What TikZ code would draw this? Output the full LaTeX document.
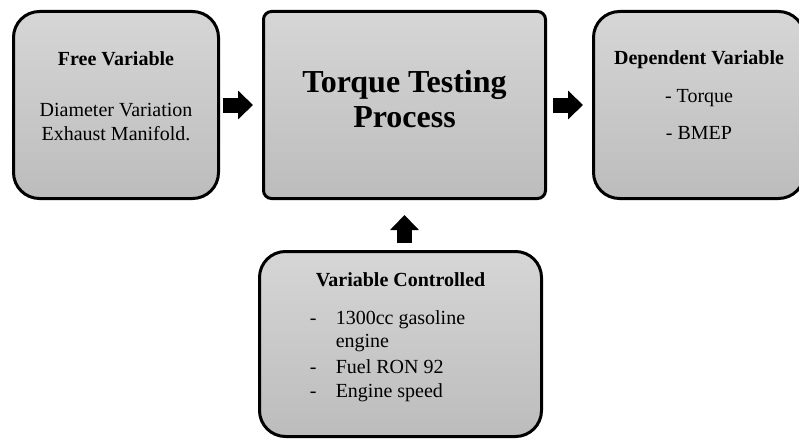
\documentclass[tikz,border=0pt]{standalone}
\usepackage{fontspec}
\setmainfont{Liberation Serif}
\usetikzlibrary{arrows.meta, positioning}
\definecolor{boxtop}{RGB}{214,214,214}
\definecolor{boxbottom}{RGB}{188,188,188}
\newcommand{\liftbox}[2]{\raisebox{0pt}[\height][\dimexpr\depth+#1\relax]{#2}}

\begin{document}
\begin{tikzpicture}[
    x=1pt, y=1pt,
    varbox/.style={draw=black, line width=3pt, rounded corners=26pt, top color=boxtop, bottom color=boxbottom, minimum width=205pt, minimum height=187pt, inner sep=0pt, align=center, font=\fontsize{20}{23.4}\selectfont},
    procbox/.style={varbox, rounded corners=8pt, minimum width=282pt, font=\fontsize{32}{36}\selectfont\bfseries},
    blockarrow/.style={-{Triangle[width=28pt, length=15pt]}, line width=15pt, draw=black}
  ]
  \useasboundingbox (0,0) rectangle (799,440);
  \begin{scope}
  \clip (0,0) rectangle (799,440);

  % Free variable (input)
  \node[varbox] (free) at (116,335) {\liftbox{13.4pt}{\begin{tabular}{@{}c@{}}
    \textbf{Free Variable}\\[27.3pt]
    Diameter Variation\\
    Exhaust Manifold.
  \end{tabular}}};

  % Main process
  \node[procbox] (proc) at (404.5,335) {\liftbox{4.4pt}{\begin{tabular}{@{}c@{}}
    Torque Testing\\
    Process
  \end{tabular}}};

  % Dependent variable (output)
  \node[varbox, minimum width=211pt] (dep) at (699,335) {\liftbox{14.4pt}{\begin{tabular}{@{}c@{}}
    \textbf{Dependent Variable}\\[14.6pt]
    - Torque\\[13.6pt]
    - BMEP
  \end{tabular}}};

  % Controlled variables
  \node[varbox, minimum width=282pt, minimum height=185pt] (ctrl) at (400.5,96) {\liftbox{14pt}{\begin{tabular}{@{}l@{}l@{}}
    \multicolumn{2}{c}{\textbf{Variable Controlled}}\\[14.6pt]
    \makebox[26pt][l]{-} & 1300cc gasoline\\
     & engine\\[3pt]
    \makebox[26pt][l]{-} & Fuel RON 92\\
    \makebox[26pt][l]{-} & Engine speed
  \end{tabular}}};
  \end{scope}

  % Block arrows
  \draw[blockarrow, shorten <=2.7pt, shorten >=9pt] (free) -- (proc);
  \draw[blockarrow, shorten <=6pt, shorten >=9pt] (proc) -- (dep);
  \draw[blockarrow, shorten <=7pt, shorten >=15pt] (ctrl.north -| proc.south) -- (proc.south);
\end{tikzpicture}
\end{document}
